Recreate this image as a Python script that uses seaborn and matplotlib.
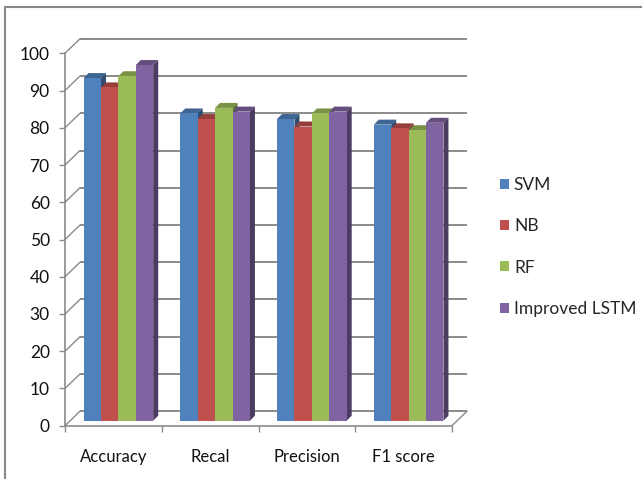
import matplotlib
matplotlib.use("Agg")
import matplotlib.pyplot as plt
import matplotlib.transforms as mtransforms
from matplotlib.patches import Polygon, Patch, Rectangle
import numpy as np
import pandas as pd
import seaborn as sns

# data
metrics = ["Accuracy", "Recal", "Precision", "F1 score"]
models = ["SVM", "NB", "RF", "Improved LSTM"]
svm = [92, 82.5, 81, 79.5]
nb = [89.5, 81, 79, 78.5]
rf = [92.5, 84, 82.5, 78]
lstm = [95.5, 83, 83, 80]
colors = ["#4F81BD", "#C0504D", "#9BBB59", "#8064A2"]
yticks = list(range(0, 101, 10))

rows = []
for name, vals in zip(models, [svm, nb, rf, lstm]):
    for m, v in zip(metrics, vals):
        rows.append({"metric": m, "model": name, "score": v})
df = pd.DataFrame(rows)

sns.set_style("white")
plt.rcParams["font.family"] = ["Lato", "DejaVu Sans"]

W, H = 642, 479
fig = plt.figure(figsize=(W / 100, H / 100), dpi=100)
ax_l, ax_r, ax_b, ax_t = 65, 452, 425.7, 53.3
ax = fig.add_axes([ax_l / W, (H - ax_b) / H, (ax_r - ax_l) / W, (ax_b - ax_t) / H])
ax.set_xlim(-0.5, 3.5)
ax.set_ylim(0, 100)

# pixel -> data conversions for the fake 3D depth
px_x = 4 / (ax_r - ax_l)
px_y = 100 / (ax_b - ax_t)
DX, DY = 15 * px_x, 14.5 * px_y      # back wall offset
bd = 5                               # bar depth in px

grid_c = "#8a8a8a"
for t in yticks:
    ax.plot([-0.5 + DX, 3.5 + DX], [t + DY, t + DY], color=grid_c, lw=1.4,
            clip_on=False, zorder=1, solid_capstyle="butt")
    ax.plot([-0.5, -0.5 + DX], [t, t + DY], color=grid_c, lw=1.0, clip_on=False, zorder=1)
ax.plot([3.5, 3.5 + DX], [0, DY], color=grid_c, lw=1.0, clip_on=False, zorder=1)

sns.barplot(data=df, x="metric", y="score", hue="model", order=metrics,
            hue_order=models, palette=colors, width=0.72, saturation=1,
            errorbar=None, legend=False, ax=ax, zorder=3)

shift = mtransforms.offset_copy(ax.transData, fig=fig, x=bd, y=bd, units="dots")
bars = list(ax.patches)
for p in bars:
    fc = np.array(p.get_facecolor()[:3])
    x0, w, h = p.get_x(), p.get_width(), p.get_height()
    dx, dy = bd * px_x, bd * px_y
    p.set_transform(shift)
    p.set_edgecolor("none")
    p.set_clip_on(False)
    top = Polygon([(x0, h), (x0 + w, h), (x0 + w + dx, h + dy), (x0 + dx, h + dy)],
                  closed=True, facecolor=fc * 0.78, edgecolor="none",
                  transform=shift, zorder=2.5, clip_on=False)
    side = Polygon([(x0 + w, 0), (x0 + w + dx, dy), (x0 + w + dx, h + dy), (x0 + w, h)],
                   closed=True, facecolor=fc * 0.6, edgecolor="none",
                   transform=shift, zorder=2.5, clip_on=False)
    ax.add_patch(top)
    ax.add_patch(side)

for s in ["top", "right"]:
    ax.spines[s].set_visible(False)
for s in ["left", "bottom"]:
    ax.spines[s].set_color(grid_c)
    ax.spines[s].set_linewidth(1.2)
    ax.spines[s].set_zorder(1)

ax.set_yticks(yticks)
ax.set_xticks(range(len(metrics)))
ax.set_xticklabels(metrics)
ax.set_xticks([-0.5, 0.5, 1.5, 2.5, 3.5], minor=True)
ax.tick_params(axis="y", direction="out", length=4, width=1, color=grid_c,
               pad=7, labelsize=12.5, labelcolor="#111111", left=True)
ax.tick_params(axis="x", which="major", length=0, pad=17, labelsize=12,
               labelcolor="#111111")
ax.tick_params(axis="x", which="minor", direction="out", length=4, width=1,
               color=grid_c, bottom=True)
ax.set_xlabel("")
ax.set_ylabel("")
ax.grid(False)

handles = [Patch(facecolor=c, edgecolor="none") for c in colors]
fig.legend(handles, models, loc="center left", bbox_to_anchor=(500 / W, 232 / H),
           frameon=False, fontsize=12.5, handlelength=0.5, handleheight=0.5,
           handletextpad=0.3, labelspacing=1.45, borderpad=0, borderaxespad=0)

# outer chart border (left and top edges visible)
fig.patches.append(Rectangle((5 / W, -0.05), 1.2, (H - 7) / H + 0.05,
                             transform=fig.transFigure, fill=False,
                             edgecolor="#888888", lw=1.5))

fig.savefig("out.png", dpi=100)
